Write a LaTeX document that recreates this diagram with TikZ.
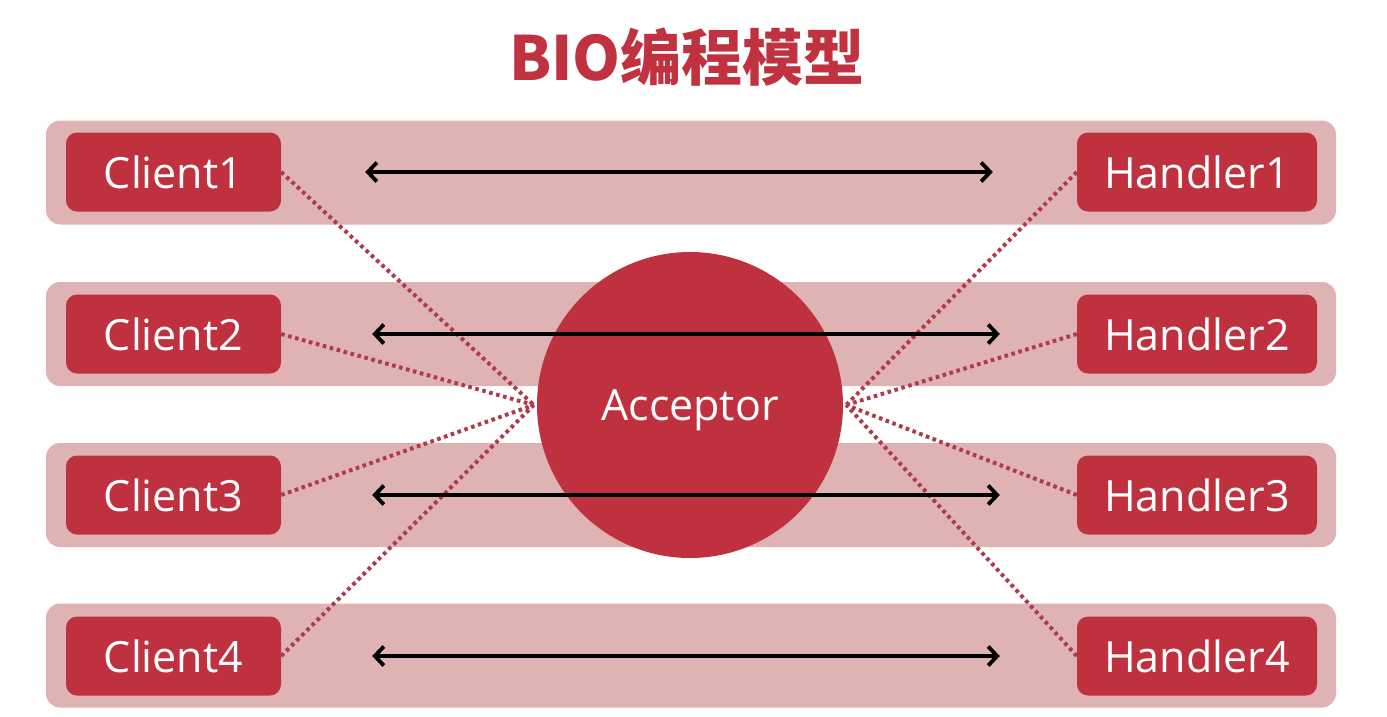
\documentclass[tikz,border=0pt]{standalone}
\usepackage{fontspec}
\setmainfont{Open Sans}
\newfontfamily\cjk{Noto Sans CJK SC}
\usetikzlibrary{arrows.meta}
\definecolor{bandpink}{HTML}{DFB3B4}
\definecolor{boxred}{HTML}{C0313F}
\definecolor{dotred}{HTML}{B03A4A}
\definecolor{titlered}{HTML}{C0323F}
\begin{document}
\begin{tikzpicture}[x=1pt,y=-1pt,
  band/.style={fill=bandpink, rounded corners=14pt, minimum width=1290pt, minimum height=104pt, inner sep=0pt},
  box/.style={fill=boxred, rounded corners=11pt, minimum height=79pt, inner sep=0pt, text=white, font=\fontsize{43}{48}\selectfont},
  cbox/.style={box, minimum width=215pt},
  hbox/.style={box, minimum width=240pt},
  dotline/.style={dotred, line width=4pt, dash pattern=on 3.6pt off 3.6pt},
  link/.style={black, line width=3.8pt, {Straight Barb[length=9pt,width=19pt]}-{Straight Barb[length=9pt,width=19pt]}}
]
\useasboundingbox (0,0) rectangle (1387,716);
\node[font=\cjk\bfseries\fontsize{61}{66}\selectfont, text=titlered] (title) at (687,57) {BIO编程模型};
\node[band] (b1) at (691,172.5) {};
\node[band] (b2) at (691,334) {};
\node[band] (b3) at (691,495) {};
\node[band] (b4) at (691,655.5) {};
\node[cbox] (c1) at (173.5,172) {Client1};
\node[cbox] (c2) at (173.5,334) {Client2};
\node[cbox] (c3) at (173.5,495) {Client3};
\node[cbox] (c4) at (173.5,656) {Client4};
\node[hbox] (h1) at (1197,172) {Handler1};
\node[hbox] (h2) at (1197,334) {Handler2};
\node[hbox] (h3) at (1197,495) {Handler3};
\node[hbox] (h4) at (1197,656) {Handler4};
\node[circle, fill=boxred, minimum size=306pt, inner sep=0pt, text=white, text height=30pt, text depth=0pt, font=\fontsize{43}{48}\selectfont] (acc) at (690,405) {Acceptor};
\foreach \i in {1,...,4}{
  \draw[dotline] (c\i.east) -- ([xshift=-3pt]acc.west);
  \draw[dotline] (h\i.west) -- ([xshift=3pt]acc.east);
}
\draw[link, shorten <=84pt, shorten >=84pt] (c1.east) -- (h1.west);
\draw[link, shorten <=91pt, shorten >=77pt] (c2.east) -- (h2.west);
\draw[link, shorten <=91pt, shorten >=77pt] (c3.east) -- (h3.west);
\draw[link, shorten <=91pt, shorten >=77pt] (c4.east) -- (h4.west);
\end{tikzpicture}
\end{document}
